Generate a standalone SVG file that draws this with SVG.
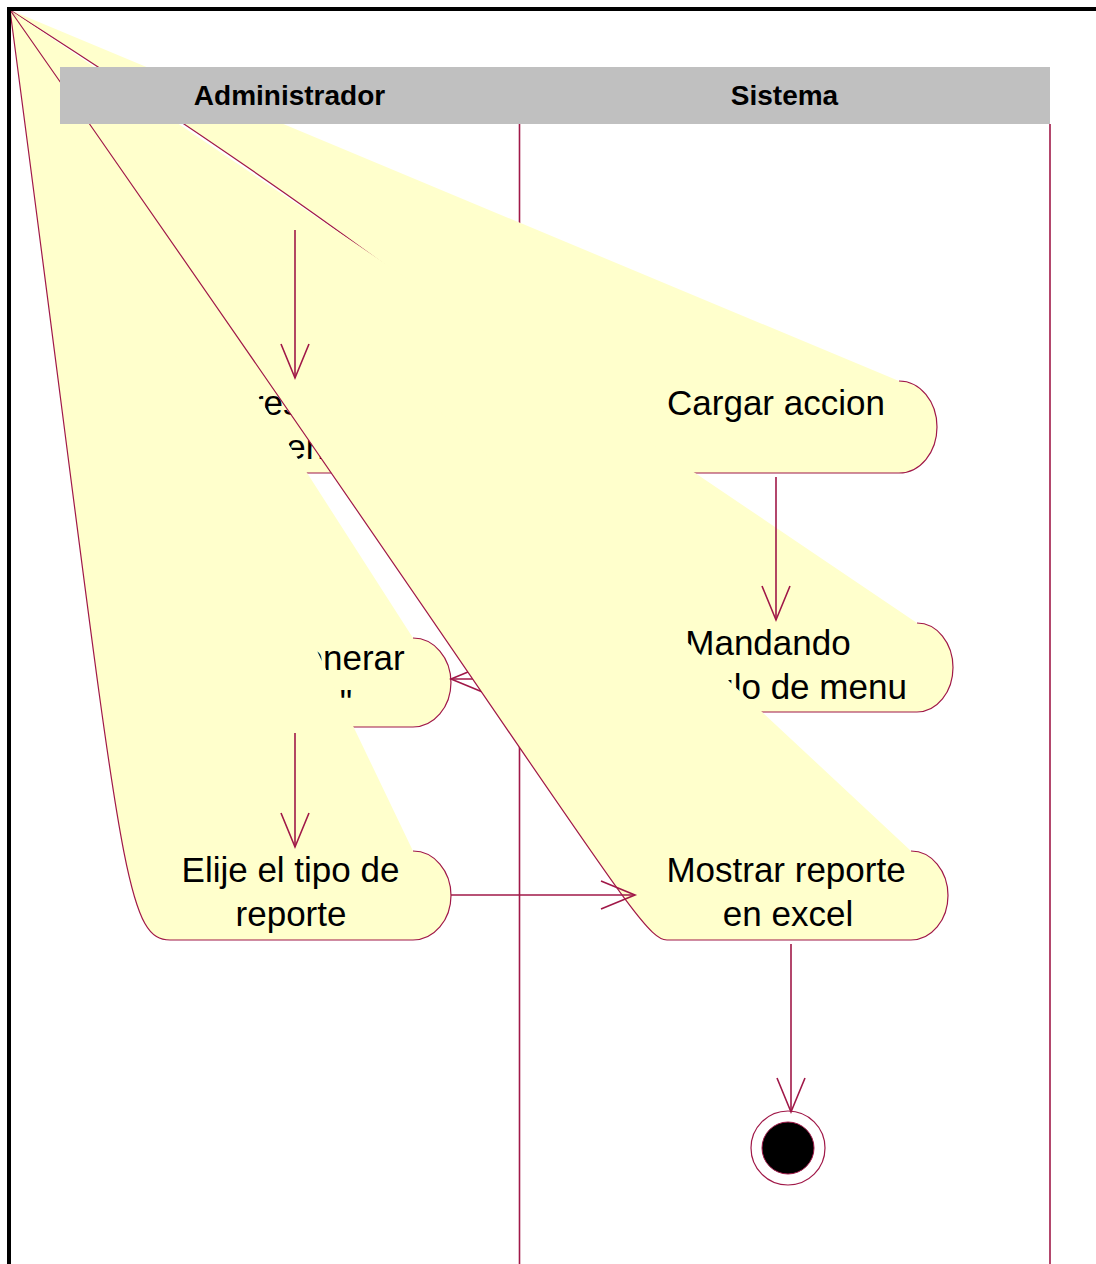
<svg xmlns="http://www.w3.org/2000/svg" width="1096" height="1264" viewBox="0 0 1096 1264">
  <style>
    .lane { stroke: #A01848; stroke-width: 1.6; fill: none; }
    .act-fill { fill: #FFFFCC; stroke: none; }
    .act-line { fill: none; stroke: #A01848; stroke-width: 1.2; }
    .lbl { font-family: "Liberation Sans", Arial, sans-serif; font-size: 35px; fill: #000; text-anchor: middle; }
    .hdr { font-family: "Liberation Sans", Arial, sans-serif; font-size: 28px; font-weight: bold; fill: #000; text-anchor: middle; }
    .conn { fill: none; stroke: #A01848; stroke-width: 1.6; }
  </style>
  <defs>
    <marker id="open" viewBox="0 0 40 32" refX="36" refY="16" markerWidth="40" markerHeight="32" markerUnits="userSpaceOnUse" orient="auto">
      <path d="M2,2 L36,16 L2,30" fill="none" stroke="#A01848" stroke-width="1.6"/>
    </marker>
    <clipPath id="outsideMostrar" clip-rule="evenodd">
      <path clip-rule="evenodd" d="M0,0 H1096 V1264 H0 Z M10,10 C598,851 640,940 667,940 L911,940 A37,44.5 0 0 0 911,851 Z"/>
    </clipPath>
  </defs>
  <rect width="1096" height="1264" fill="#FFFFFF"/>

  <g id="lanes">
    <line class="lane" x1="519.5" y1="124" x2="519.5" y2="1264"/>
    <line class="lane" x1="1050" y1="124" x2="1050" y2="1264"/>
  </g>

  <g id="act-ingresar">
    <path class="act-fill" d="M10,10 C121,381 121,473 170,473 L413,473 A38,46 0 0 0 413,381 Z"/>
    <path class="act-line" d="M10,10 C121,381 121,473 170,473 L413,473 A38,46 0 0 0 413,381"/>
    <text class="lbl" x="286" y="415">Ingresar al</text>
    <text class="lbl" x="301" y="459">menu</text>
  </g>

  <g id="act-cargar">
    <path class="act-fill" d="M10,10 C590,381 610,473 653,473 L899,473 A38,46 0 0 0 899,381 Z"/>
    <path class="act-line" d="M10,10 C590,381 610,473 653,473 L899,473 A38,46 0 0 0 899,381"/>
    <text class="lbl" x="776" y="415">Cargar accion</text>
  </g>

  <g id="act-mandando">
    <path class="act-fill" d="M10,10 C571,623 571,712 620,712 L917,712 A36,44.5 0 0 0 917,623 Z"/>
    <path class="act-line" d="M10,10 C571,623 571,712 620,712 L917,712 A36,44.5 0 0 0 917,623"/>
    <text class="lbl" x="768" y="655">Mandando</text>
    <text class="lbl" x="776.5" y="699">modulo de menu</text>
  </g>

  <g id="act-generar">
    <path class="act-fill" d="M10,10 C121,638 121,727 170,727 L413,727 A38,44.5 0 0 0 413,638 Z"/>
    <path class="act-line" d="M10,10 C121,638 121,727 170,727 L413,727 A38,44.5 0 0 0 413,638"/>
    <text class="lbl" x="290.5" y="670">Elige "Generar</text>
    <text class="lbl" x="290.5" y="714">reporte"</text>
  </g>

  <g id="act-elije">
    <path class="act-fill" d="M10,10 C121,851 121,940 170,940 L413,940 A38,44.5 0 0 0 413,851 Z"/>
    <path class="act-line" d="M10,10 C121,851 121,940 170,940 L413,940 A38,44.5 0 0 0 413,851"/>
    <text class="lbl" x="290.5" y="882">Elije el tipo de</text>
    <text class="lbl" x="291" y="926">reporte</text>
  </g>

  <g id="act-mostrar">
    <path class="act-fill" d="M10,10 C598,851 640,940 667,940 L911,940 A37,44.5 0 0 0 911,851 Z"/>
    <path class="act-line" d="M10,10 C598,851 640,940 667,940 L911,940 A37,44.5 0 0 0 911,851"/>
    <text class="lbl" x="786" y="882">Mostrar reporte</text>
    <text class="lbl" x="788" y="926">en excel</text>
  </g>

  <g id="end-state">
    <circle cx="788" cy="1148" r="37" fill="#FFFFFF" stroke="#A01848" stroke-width="1.2"/>
    <circle cx="788" cy="1148" r="26" fill="#000000" stroke="#A01848" stroke-width="1"/>
  </g>

  <g id="connectors">
    <line class="conn" x1="295" y1="230" x2="295" y2="378" marker-end="url(#open)"/>
    <line class="conn" x1="776" y1="477" x2="776" y2="620" marker-end="url(#open)"/>
    <line class="conn" x1="583" y1="679" x2="451" y2="679" marker-end="url(#open)" clip-path="url(#outsideMostrar)"/>
    <line class="conn" x1="295" y1="733" x2="295" y2="847" marker-end="url(#open)"/>
    <line class="conn" x1="451" y1="895" x2="635" y2="895" marker-end="url(#open)"/>
    <line class="conn" x1="791" y1="944" x2="791" y2="1112" marker-end="url(#open)"/>
  </g>

  <g id="header">
    <rect x="60" y="67" width="990" height="57" fill="#C0C0C0"/>
    <text class="hdr" x="289.5" y="105">Administrador</text>
    <text class="hdr" x="784.5" y="105">Sistema</text>
  </g>

  <g id="frame">
    <line x1="7" y1="9" x2="1096" y2="9" stroke="#000" stroke-width="4"/>
    <line x1="9" y1="7" x2="9" y2="1264" stroke="#000" stroke-width="4"/>
  </g>
</svg>
